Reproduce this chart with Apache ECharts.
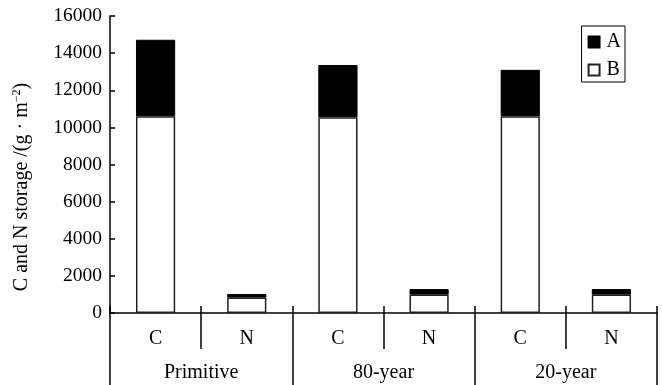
<!DOCTYPE html>
<html>
<head>
<meta charset="utf-8">
<script src="https://cdn.jsdelivr.net/npm/echarts@6/dist/echarts.min.js"></script>
<style>html,body{margin:0;padding:0;background:#fff;}#chart{width:662px;height:385px;}</style>
</head>
<body>
<div id="chart"></div>
<script>
const subCategories = ['C', 'N', 'C', 'N', 'C', 'N'];
const groups = ['Primitive', '80-year', '20-year'];
const seriesB = [10600, 830, 10550, 990, 10600, 990];
const seriesA = [4120, 190, 2810, 300, 2500, 300];
const yTicks = { min: 0, max: 16000, interval: 2000 };

const FONT = 'Liberation Serif';
const chart = echarts.init(document.getElementById('chart'));
chart.setOption({
  animation: false,
  backgroundColor: '#fff',
  grid: { left: 110, right: 5, top: 16, bottom: 72, containLabel: false },
  legend: {
    data: [{ name: 'A', icon: 'rect' }, { name: 'B', icon: 'rect' }],
    orient: 'vertical',
    right: 37,
    top: 26,
    padding: [6, 4, 2, 6],
    itemWidth: 11,
    itemHeight: 11,
    itemGap: 8,
    borderColor: '#000',
    borderWidth: 1,
    textStyle: { fontFamily: FONT, fontSize: 20, color: '#000', padding: [0, 0, 0, 2] }
  },
  xAxis: [
    {
      type: 'category', data: subCategories, position: 'bottom',
      axisLine: { show: true, lineStyle: { color: '#000', width: 1.5 } },
      axisTick: { show: true, length: 36, lineStyle: { color: '#000', width: 1.5 } },
      axisLabel: { fontFamily: FONT, fontSize: 20, color: '#000', margin: 16 },
      splitLine: { show: false }
    },
    {
      type: 'category', data: groups, position: 'bottom',
      axisLine: { show: false },
      axisTick: { show: true, length: 72, lineStyle: { color: '#000', width: 1.5 } },
      axisLabel: { fontFamily: FONT, fontSize: 20, color: '#000', margin: 50 },
      splitLine: { show: false }
    },
    {
      type: 'category', data: subCategories, position: 'bottom',
      axisLine: { show: false },
      axisTick: { show: true, inside: true, length: 7, lineStyle: { color: '#000', width: 1.5 } },
      axisLabel: { show: false },
      splitLine: { show: false }
    }
  ],
  yAxis: {
    type: 'value', min: yTicks.min, max: yTicks.max, interval: yTicks.interval,
    axisLine: { show: true, lineStyle: { color: '#000', width: 1.5 } },
    axisTick: { show: true, inside: true, length: 5, lineStyle: { color: '#000', width: 1.5 } },
    axisLabel: { fontFamily: FONT, fontSize: 19.5, color: '#000', margin: 8, formatter: function (v) { return String(v); } },
    splitLine: { show: false }
  },
  graphic: [{
    type: 'text',
    x: 22, y: 187,
    rotation: Math.PI / 2,
    style: {
      text: '{n|C and N storage /(g · m}{s|−2}{n|)}',
      align: 'center', verticalAlign: 'middle',
      rich: {
        n: { fontFamily: FONT, fontSize: 20, fill: '#000', color: '#000' },
        s: { fontFamily: FONT, fontSize: 12, fill: '#000', color: '#000', padding: [0, 0, 10, 0] }
      }
    }
  }],
  series: [
    {
      name: 'B', type: 'bar', stack: 'total', xAxisIndex: 0, barWidth: '43%',
      data: seriesB,
      itemStyle: { color: '#fff', borderColor: '#222', borderWidth: 1.5 }
    },
    {
      name: 'A', type: 'bar', stack: 'total', xAxisIndex: 0, barWidth: '43%',
      data: seriesA,
      itemStyle: { color: '#000', borderColor: '#000', borderWidth: 1 }
    }
  ]
});
</script>
</body>
</html>
